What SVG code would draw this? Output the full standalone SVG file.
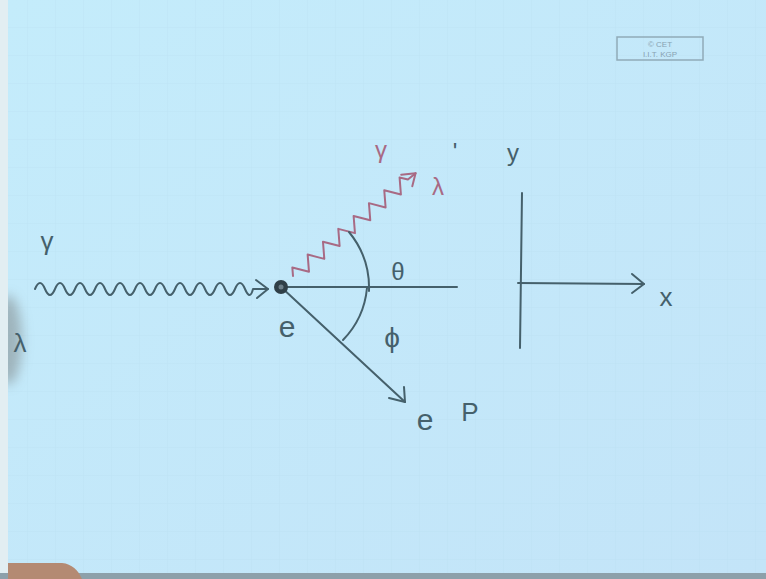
<svg xmlns="http://www.w3.org/2000/svg" width="766" height="579" viewBox="0 0 766 579">
<defs>
<style>
.ink{fill:none;stroke:#45606b;stroke-width:2;stroke-linecap:round;stroke-linejoin:round}
.red{fill:none;stroke:#a86a84;stroke-width:2;stroke-linecap:round;stroke-linejoin:round}
.t{font-family:"Liberation Sans",sans-serif;fill:#45606b}
.tr{font-family:"Liberation Sans",sans-serif;fill:#a86a84}
</style>
<pattern id="grid" width="28" height="28" patternUnits="userSpaceOnUse">
<path d="M28,0 V28 M0,28 H28" fill="none" stroke="#b6dcef" stroke-width="1"/>
</pattern>
<linearGradient id="bg" x1="0" y1="0" x2="1" y2="1">
<stop offset="0" stop-color="#c4ecfb"/>
<stop offset="1" stop-color="#c3e4f8"/>
</linearGradient>
<filter id="blur" x="-1" y="-1" width="3" height="3"><feGaussianBlur stdDeviation="6"/></filter>
</defs>
<rect width="766" height="579" fill="url(#bg)"/>
<rect width="766" height="579" fill="url(#grid)" opacity="0.5"/>
<ellipse cx="8" cy="340" rx="14" ry="45" fill="#8f9ea3" opacity="0.7" filter="url(#blur)"/>
<rect x="0" y="0" width="8" height="579" fill="#e2eef2"/>
<rect x="0" y="573" width="766" height="6" fill="#8da0aa"/>
<path d="M8,563 L62,563 C72,564 78,570 82,579 L8,579 Z" fill="#b48a73"/>

<g id="badge">
<rect x="617" y="37" width="86" height="23" fill="none" stroke="#90aab8" stroke-width="1.5"/>
<text x="660" y="47" text-anchor="middle" font-size="8" font-family="Liberation Sans, sans-serif" fill="#88a2b2">© CET</text>
<text x="660" y="57" text-anchor="middle" font-size="8" font-family="Liberation Sans, sans-serif" fill="#88a2b2">I.I.T. KGP</text>
</g>

<g id="connectors">
<!-- incoming photon -->
<path class="ink" d="M35,289 q5,-12 10,0 t10,0 t10,0 t10,0 t10,0 t10,0 t10,0 t10,0 t10,0 t10,0 t10,0 t10,0 t10,0 t10,0 t10,0 t10,0 t10,0 t10,0 t10,0 t10,0 t10,0 t8,0 L268,289"/>
<path class="ink" d="M256,280 L268,289 L257,298"/>
<!-- scattered photon -->
<g transform="translate(293,276) rotate(-40)">
<path class="red" d="M0,0 l5,-7 l10,14 l10,-14 l10,14 l10,-14 l10,14 l10,-14 l10,14 l10,-14 l10,14 l10,-14 l10,14 l10,-14 l10,14 l10,-14 l5,7 L160,0"/>
<path class="red" d="M148,-8 L160,0 L149,8"/>
</g>
<!-- horizontal line -->
<path class="ink" d="M281,287 L457,287"/>
<!-- electron direction -->
<path class="ink" d="M281,287 L405,402"/>
<path class="ink" d="M389,398 L405,402 L404,387"/>
<!-- theta arc -->
<path class="ink" d="M369,291 A88,88 0 0 0 349,232"/>
<!-- phi arc -->
<path class="ink" d="M367,288 A86,86 0 0 1 343,340"/>
<!-- axes -->
<path class="ink" d="M522,193 L520,348"/>
<path class="ink" d="M518,283 L644,284"/>
<path class="ink" d="M632,274 L644,284 L632,293"/>
</g>

<g id="electron">
<circle cx="281" cy="287" r="7" fill="#2f3f47"/>
<circle cx="281" cy="287" r="2.5" fill="#6c7e88"/>
</g>

<g id="labels">
<text x="47" y="250" font-size="26" class="t" text-anchor="middle">γ</text>
<text x="20" y="352" font-size="26" class="t" text-anchor="middle">λ</text>
<text x="287" y="337" font-size="30" class="t" text-anchor="middle">e</text>
<text x="381" y="158" font-size="24" class="tr" text-anchor="middle">γ</text>
<text x="455" y="160" font-size="24" class="t" text-anchor="middle">'</text>
<text x="438" y="195" font-size="24" class="tr" text-anchor="middle">λ</text>
<text x="513" y="161" font-size="24" class="t" text-anchor="middle">y</text>
<text x="398" y="280" font-size="24" class="t" text-anchor="middle">θ</text>
<text x="392" y="347" font-size="28" class="t" text-anchor="middle">ϕ</text>
<text x="425" y="430" font-size="30" class="t" text-anchor="middle">e</text>
<text x="470" y="421" font-size="26" class="t" text-anchor="middle">P</text>
<text x="666" y="306" font-size="26" class="t" text-anchor="middle">x</text>
</g>
</svg>
